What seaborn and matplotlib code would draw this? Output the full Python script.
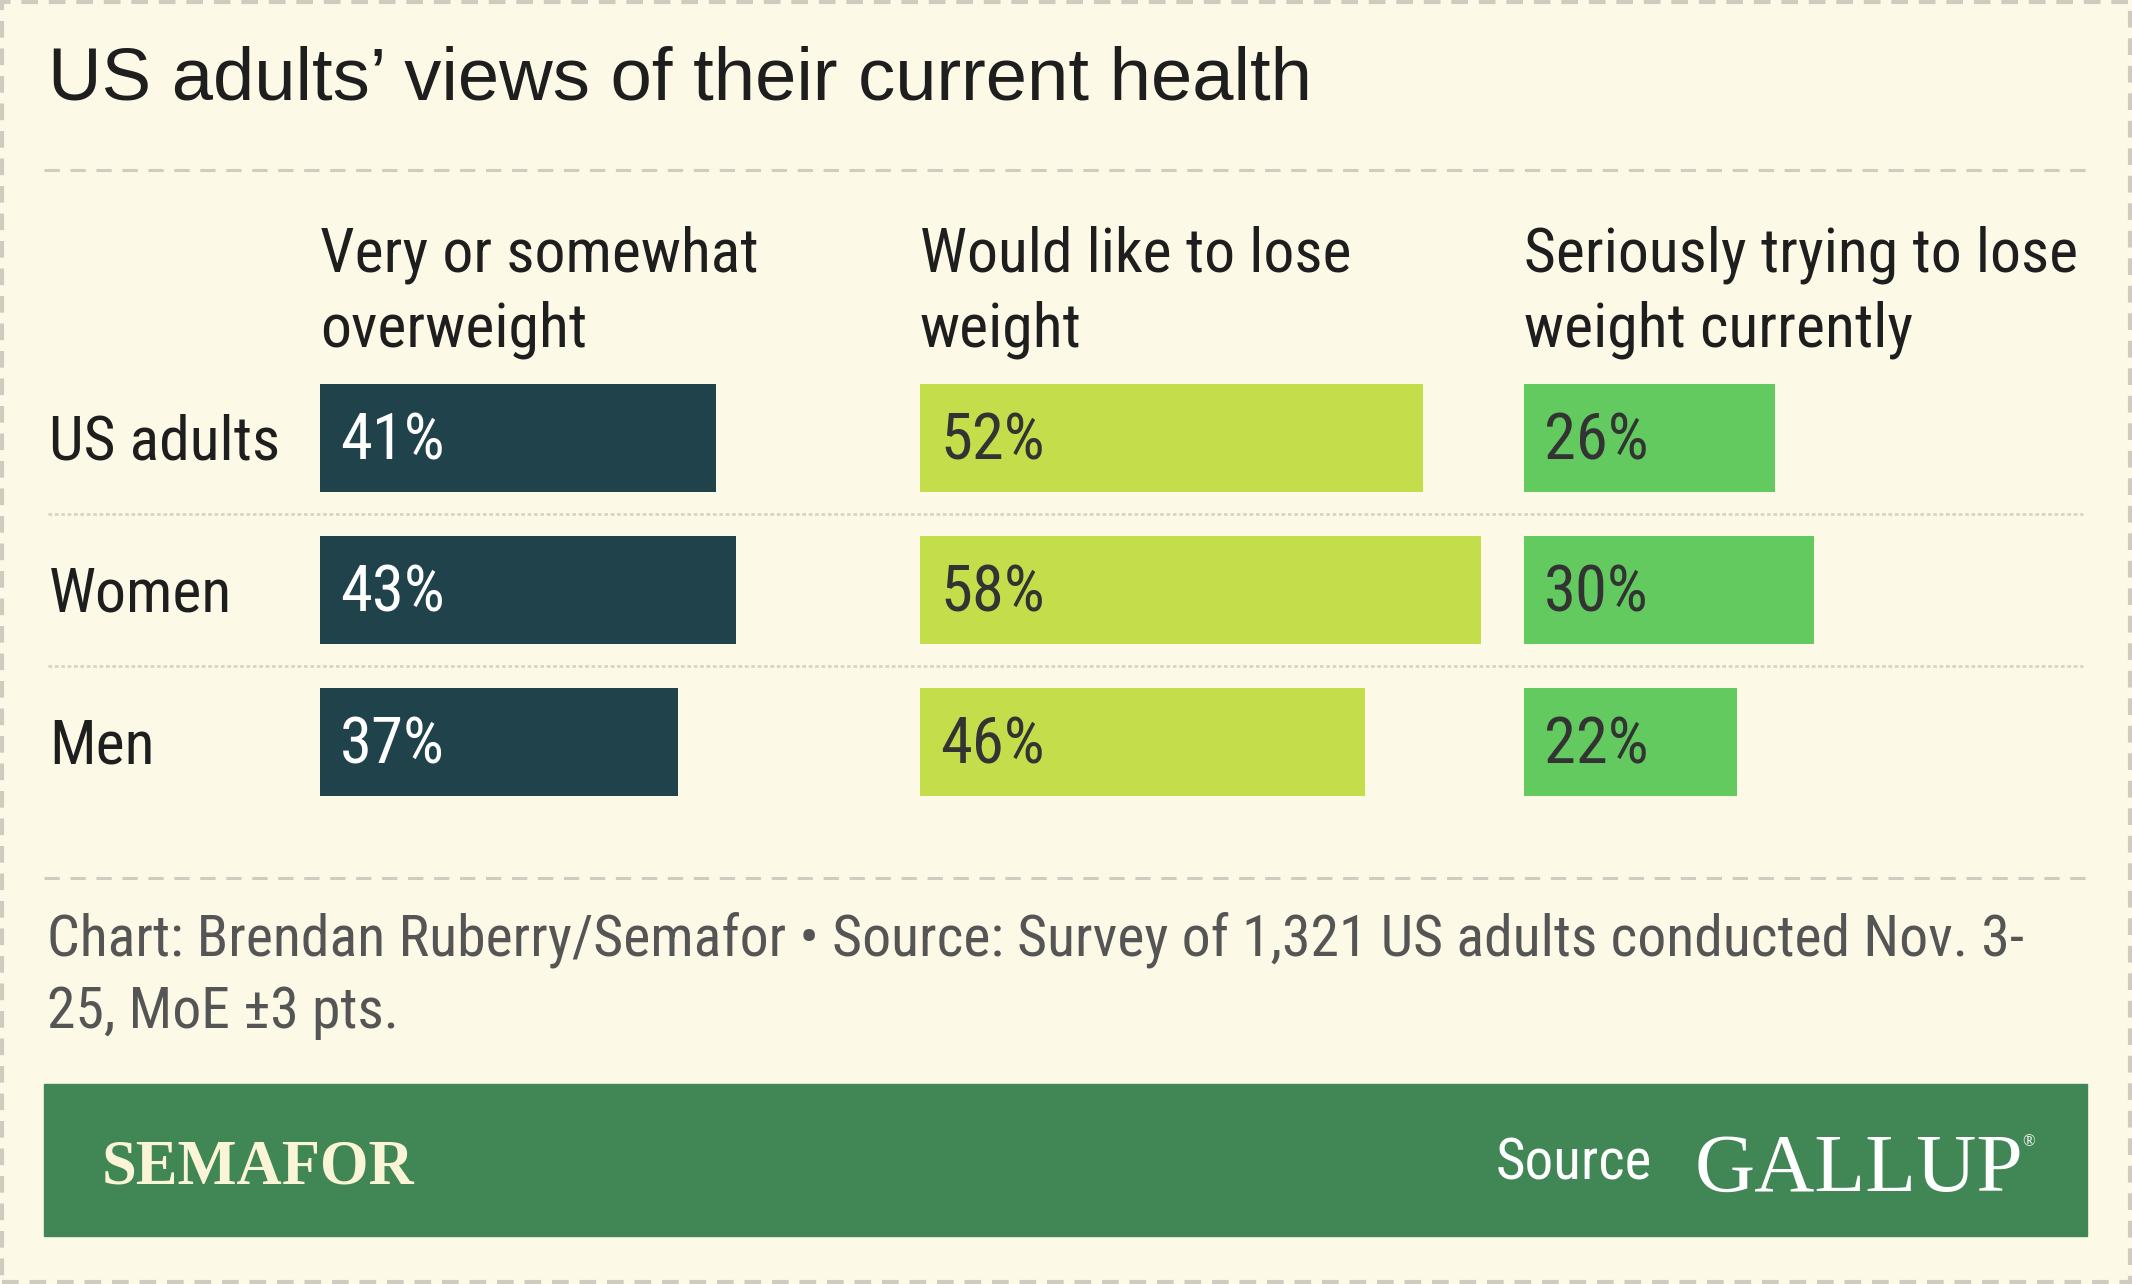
import matplotlib
matplotlib.use("Agg")
import matplotlib.pyplot as plt
import matplotlib.transforms as mtransforms
from matplotlib import font_manager
from matplotlib.patches import Rectangle
from matplotlib.lines import Line2D
import seaborn as sns
import pandas as pd

# ---------------- data ----------------
title = "US adults\u2019 views of their current health"
groups = ["US adults", "Women", "Men"]
columns = [["Very or somewhat", "overweight"],
           ["Would like to lose", "weight"],
           ["Seriously trying to lose", "weight currently"]]
overweight = [41, 43, 37]
would_like_lose = [52, 58, 46]
trying_lose = [26, 30, 22]
footer_lines = ["Chart: Brendan Ruberry/Semafor \u2022 Source: Survey of 1,321 US adults conducted Nov. 3-",
                "25, MoE \u00b13 pts."]

# ---------------- style ----------------
BG = "#FCF9E6"
BAR_COLORS = ["#1F424B", "#C4DE4B", "#62CA5E"]
LABEL_COLORS = ["#FFFFFF", "#333333", "#333333"]
BANNER = "#418755"
TEXT = "#1E1E1E"

sns.set_theme(style="white")
names = {f.name for f in font_manager.fontManager.ttflist}
def pick(cands):
    for c in cands:
        if c in names:
            return c
    return "DejaVu Sans"
BODY = pick(["Liberation Sans Narrow", "DejaVu Sans Condensed", "Roboto Condensed", "Roboto"])
TITLE_F = pick(["Liberation Sans", "Arial", "DejaVu Sans"])
SERIF = pick(["Liberation Serif", "DejaVu Serif"])
plt.rcParams["font.family"] = [BODY, "DejaVu Sans"]

W, H = 2132, 1284
fig = plt.figure(figsize=(W / 100, H / 100), dpi=100, facecolor=BG)

def fx(px):
    return px / W
def fy(py):
    return 1 - py / H

BODY_SIZE = 44.5

# outer dashed border
fig.patches.append(Rectangle((fx(2), fy(H - 2)), fx(W - 4), (H - 4) / H, transform=fig.transFigure,
                             fill=False, edgecolor="#CFCBBE", lw=3.0, linestyle=(0, (4, 2.6)), zorder=0))

# title
fig.text(fx(48), fy(100), title, fontsize=53.5, family=TITLE_F, color=TEXT, va="baseline", ha="left")

# dashed rules
for yy in (170, 878):
    fig.add_artist(Line2D([fx(44), fx(2087)], [fy(yy), fy(yy)], transform=fig.transFigure,
                          color="#CFCCC0", lw=2.2, linestyle=(0, (5, 3.5))))

# bar panels
PX_PER_PCT = 9.67
col_left = [320, 920, 1524]
col_right = [920, 1524, 2087]
top_px, bot_px = 362, 818
series = [overweight, would_like_lose, trying_lose]

axes = []
for i, vals in enumerate(series):
    L, R = col_left[i], col_right[i]
    ax = fig.add_axes([fx(L), fy(bot_px), (R - L) / W, (bot_px - top_px) / H])
    ax.set_facecolor("none")
    df = pd.DataFrame({"group": groups, "value": vals})
    sns.barplot(data=df, x="value", y="group", orient="h", color=BAR_COLORS[i],
                saturation=1, width=0.71, ax=ax, errorbar=None, linewidth=0)
    ax.set_xlim(0, (R - L) / PX_PER_PCT)
    ax.set_ylim(len(groups) - 0.5, -0.5)
    for s in ax.spines.values():
        s.set_visible(False)
    ax.set_xticks([]); ax.set_yticks([])
    ax.set_xlabel(""); ax.set_ylabel("")
    for j, v in enumerate(vals):
        ax.text(20 / PX_PER_PCT, j + 22 / 152, f"{v}%", color=LABEL_COLORS[i],
                fontsize=BODY_SIZE + 2, va="baseline", ha="left")
    # column header (two lines)
    for k, line in enumerate(columns[i]):
        fig.text(fx(L), fy(272 + 75 * k), line, fontsize=BODY_SIZE, color=TEXT,
                 va="baseline", ha="left")
    axes.append(ax)

# row labels
tr = mtransforms.blended_transform_factory(fig.transFigure, axes[0].transData)
for j, g in enumerate(groups):
    fig.text(fx(49), j + 22 / 152, g, transform=tr, fontsize=BODY_SIZE, color=TEXT,
             va="baseline", ha="left")

# dotted separators between rows
for yy in (514, 666):
    fig.add_artist(Line2D([fx(48), fx(2083)], [fy(yy), fy(yy)], transform=fig.transFigure,
                          color="#D6D4C6", lw=2.0, linestyle=(0, (1.3, 1.0))))

# footer
for k, line in enumerate(footer_lines):
    fig.text(fx(47), fy(956 + 72 * k), line, fontsize=41.6, color="#555555",
             va="baseline", ha="left")

# banner
fig.patches.append(Rectangle((fx(44), fy(1236)), fx(2087 - 44), (1236 - 1084) / H,
                             transform=fig.transFigure, color=BANNER, zorder=1))
fig.text(fx(102), fy(1183), "SEMAFOR", family=SERIF, weight="bold", fontsize=45,
         color="#FBF5D8", va="baseline", ha="left", zorder=2)
fig.text(fx(1496), fy(1180), "Source", fontsize=41, color="#FFFFFF", va="baseline", ha="left", zorder=2)
fig.text(fx(1695), fy(1191), "GALLUP", family=SERIF, fontsize=60, color="#FFFFFF",
         va="baseline", ha="left", zorder=2)
fig.text(fx(2022), fy(1146), "\u00ae", family=SERIF, fontsize=12, color="#FFFFFF",
         va="baseline", ha="left", zorder=2)

fig.savefig("out.png", dpi=100, facecolor=BG)
